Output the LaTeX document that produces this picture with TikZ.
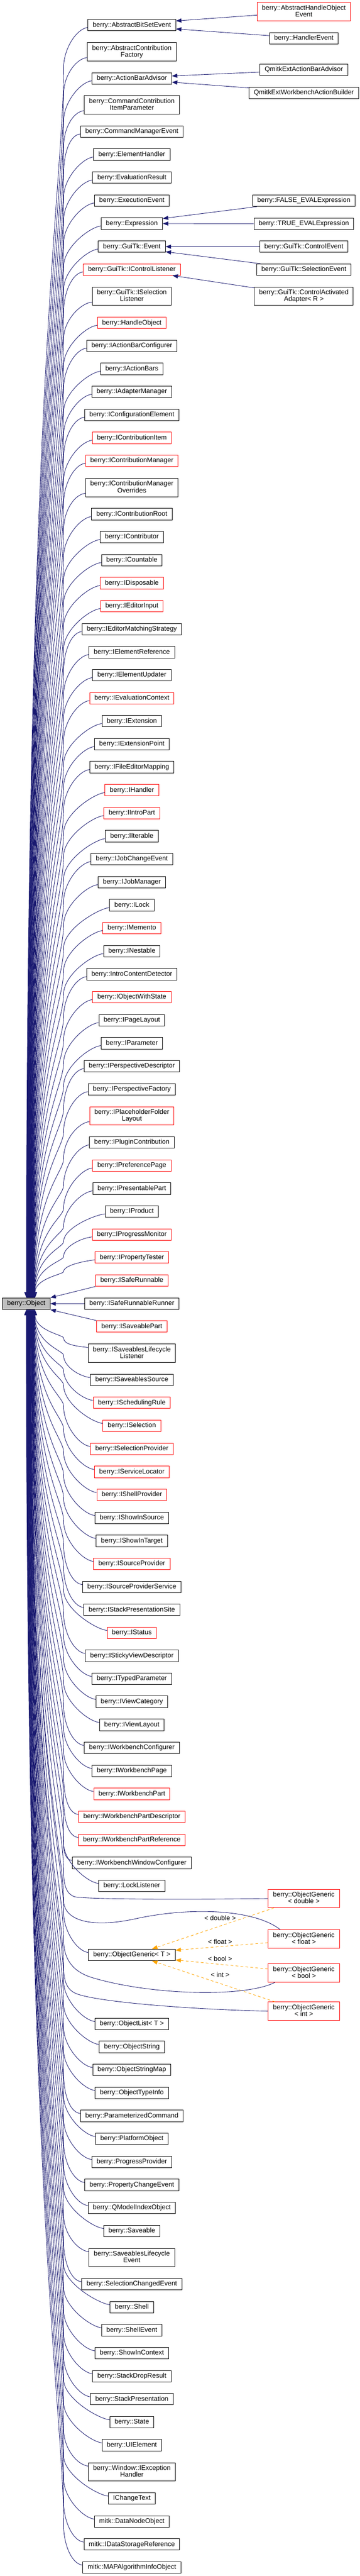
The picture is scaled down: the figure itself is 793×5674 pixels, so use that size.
\documentclass[tikz,border=0pt]{standalone}
\usepackage{fontspec}
\setmainfont{Liberation Sans}
\usetikzlibrary{arrows.meta,calc}
\definecolor{navy}{HTML}{191970}
\definecolor{orng}{HTML}{FFA500}
\definecolor{grey75}{HTML}{BFBFBF}
\newcommand\fs{\fontsize{14.7bp}{15bp}\selectfont}
\tikzset{
  cls/.style={draw=black, line width=1.1bp, fill=white, font=\fs, align=center, inner xsep=10.5bp, inner ysep=2bp, minimum height=25.3bp, text depth=3.2bp},
  tall/.style={minimum height=40.3bp},
  redb/.style={draw=red},
  cur/.style={fill=grey75},
  inh/.style={draw=navy, line width=1bp, -{Triangle[length=12bp,width=9bp]}},
  tmpl/.style={draw=orng, line width=1bp, dash pattern=on 6bp off 5bp, -{Triangle[length=12bp,width=9bp]}},
  lbl/.style={font=\fs, inner sep=0pt}
}
\newcommand\edgeup[2]{%
  \pgfmathsetmacro\dA{min(95,0.35*(2859-#2))}%
  \pgfmathsetmacro\Py{#2+\dA}%
  \pgfmathsetmacro\Pc{\Py-0.45*\dA}%
  \pgfmathsetmacro\LL{2859-\Py}%
  \pgfmathsetmacro\cA{\Py+0.1*\LL}%
  \pgfmathsetmacro\cB{2859-0.75*\LL}%
  \pgfmathsetmacro\tx{58+20*(#2/2859)}%
  \pgfmathsetmacro\txr{\tx-5}%
  \draw[inh] ($(#1.south west)+(0,-8)$) .. controls +(-25,3) and (140,\Pc) .. (140,\Py) .. controls (140,\cA) and (\tx,\cB) .. ($(Object.north west)+(\txr,0)$);%
}
\newcommand\edgedown[2]{%
  \pgfmathsetmacro\dA{min(95,0.35*(#2-2884))}%
  \pgfmathsetmacro\Py{#2-\dA}%
  \pgfmathsetmacro\Pc{\Py+0.45*\dA}%
  \pgfmathsetmacro\LL{\Py-2884}%
  \pgfmathsetmacro\cA{\Py-0.1*\LL}%
  \pgfmathsetmacro\cB{2884+0.75*\LL}%
  \pgfmathsetmacro\tx{58+20*((5674-#2)/2790)}%
  \pgfmathsetmacro\txr{\tx-5}%
  \draw[inh] ($(#1.north west)+(0,8)$) .. controls +(-25,-3) and (140,\Pc) .. (140,\Py) .. controls (140,\cA) and (\tx,\cB) .. ($(Object.south west)+(\txr,0)$);%
}
\newcommand\obtrunk[3]{%
  \pgfmathsetmacro\LL{#2-2884}%
  \pgfmathsetmacro\cA{#2-0.1*\LL}%
  \pgfmathsetmacro\cB{2884+0.75*\LL}%
  \pgfmathsetmacro\txr{#3-5}%
  \draw[inh] #1 .. controls (140,\cA) and (#3,\cB) .. ($(Object.south west)+(\txr,0)$);%
}
\begin{document}
\begin{tikzpicture}[x=1bp,y=-1bp]
\fill[white] (0,0) rectangle (793,5674);
\useasboundingbox (0,0) rectangle (793,5674);

% base class
\node[cls,cur] (Object) at (57.9,2871.5) {berry::Object};

% main column
\node[cls] (ABSE) at (290.5,55.3) {berry::AbstractBitSetEvent};
\node[cls,tall] (ACF) at (290.5,114) {berry::AbstractContribution\\Factory};
\node[cls] (ABA) at (290.5,172.7) {berry::ActionBarAdvisor};
\node[cls,tall] (CCIP) at (290.5,231) {berry::CommandContribution\\ItemParameter};
\node[cls] (CME) at (290.5,289.8) {berry::CommandManagerEvent};
\node[cls] (EH) at (290.5,340.5) {berry::ElementHandler};
\node[cls] (ER) at (290.5,391.3) {berry::EvaluationResult};
\node[cls] (EE) at (290.5,441.8) {berry::ExecutionEvent};
\node[cls] (EXP) at (290.5,492.5) {berry::Expression};
\node[cls] (GEV) at (290.5,543.3) {berry::GuiTk::Event};
\node[cls,redb] (GICL) at (290.5,593.7) {berry::GuiTk::IControlListener};
\node[cls,tall] (GISL) at (290.5,652.5) {berry::GuiTk::ISelection\\Listener};
\node[cls,redb] (HO) at (290.5,711.2) {berry::HandleObject};
\node[cls] (IABC) at (290.5,761.7) {berry::IActionBarConfigurer};
\node[cls] (IAB) at (290.5,812.5) {berry::IActionBars};
\node[cls] (IAM) at (290.5,863.2) {berry::IAdapterManager};
\node[cls] (ICE) at (290.5,913.8) {berry::IConfigurationElement};
\node[cls,redb] (ICI) at (290.5,964.5) {berry::IContributionItem};
\node[cls,redb] (ICM) at (290.5,1015.2) {berry::IContributionManager};
\node[cls,tall] (ICMO) at (290.5,1073.8) {berry::IContributionManager\\Overrides};
\node[cls] (ICR) at (290.5,1132.5) {berry::IContributionRoot};
\node[cls] (ICON) at (290.5,1183.2) {berry::IContributor};
\node[cls] (ICOU) at (290.5,1233.8) {berry::ICountable};
\node[cls,redb] (IDIS) at (290.5,1284.5) {berry::IDisposable};
\node[cls,redb] (IEI) at (290.5,1335.2) {berry::IEditorInput};
\node[cls] (IEMS) at (290.5,1385.8) {berry::IEditorMatchingStrategy};
\node[cls] (IER) at (290.5,1436.5) {berry::IElementReference};
\node[cls] (IEU) at (290.5,1487.3) {berry::IElementUpdater};
\node[cls,redb] (IEC) at (290.5,1538) {berry::IEvaluationContext};
\node[cls] (IEXT) at (290.5,1588.5) {berry::IExtension};
\node[cls] (IEP) at (290.5,1639.3) {berry::IExtensionPoint};
\node[cls] (IFEM) at (290.5,1689.8) {berry::IFileEditorMapping};
\node[cls,redb] (IH) at (290.5,1740.5) {berry::IHandler};
\node[cls,redb] (IIP) at (290.5,1791.3) {berry::IIntroPart};
\node[cls] (IIT) at (290.5,1841.8) {berry::IIterable};
\node[cls] (IJCE) at (290.5,1892.5) {berry::IJobChangeEvent};
\node[cls] (IJM) at (290.5,1943.3) {berry::IJobManager};
\node[cls] (ILK) at (290.5,1993.8) {berry::ILock};
\node[cls,redb] (IMEM) at (290.5,2044.5) {berry::IMemento};
\node[cls] (INES) at (290.5,2095.2) {berry::INestable};
\node[cls] (ICD) at (290.5,2146) {berry::IntroContentDetector};
\node[cls,redb] (IOWS) at (290.5,2196.5) {berry::IObjectWithState};
\node[cls] (IPL) at (290.5,2247.2) {berry::IPageLayout};
\node[cls] (IPAR) at (290.5,2297.8) {berry::IParameter};
\node[cls] (IPD) at (290.5,2348.5) {berry::IPerspectiveDescriptor};
\node[cls] (IPF) at (290.5,2399.3) {berry::IPerspectiveFactory};
\node[cls,tall,redb] (IPFL) at (290.5,2457.8) {berry::IPlaceholderFolder\\Layout};
\node[cls] (IPC) at (290.5,2516.5) {berry::IPluginContribution};
\node[cls,redb] (IPP) at (290.5,2567.3) {berry::IPreferencePage};
\node[cls] (IPRP) at (290.5,2617.8) {berry::IPresentablePart};
\node[cls] (IPROD) at (290.5,2668.5) {berry::IProduct};
\node[cls,redb] (IPM) at (290.5,2719.2) {berry::IProgressMonitor};
\node[cls,redb] (IPT) at (290.5,2769.8) {berry::IPropertyTester};
\node[cls,redb] (ISR) at (290.5,2820.5) {berry::ISafeRunnable};
\node[cls] (ISRR) at (290.5,2871.5) {berry::ISafeRunnableRunner};
\node[cls,redb] (ISP) at (290.5,2921.8) {berry::ISaveablePart};
\node[cls,tall] (ISLL) at (290.5,2980.7) {berry::ISaveablesLifecycle\\Listener};
\node[cls] (ISS) at (290.5,3039.5) {berry::ISaveablesSource};
\node[cls,redb] (ISCR) at (290.5,3089.8) {berry::ISchedulingRule};
\node[cls,redb] (ISEL) at (290.5,3140.5) {berry::ISelection};
\node[cls,redb] (ISELP) at (290.5,3191.3) {berry::ISelectionProvider};
\node[cls,redb] (ISL) at (290.5,3242) {berry::IServiceLocator};
\node[cls,redb] (ISHP) at (290.5,3292.7) {berry::IShellProvider};
\node[cls] (ISIS) at (290.5,3343.3) {berry::IShowInSource};
\node[cls] (ISIT) at (290.5,3394) {berry::IShowInTarget};
\node[cls,redb] (ISPR) at (290.5,3444.5) {berry::ISourceProvider};
\node[cls] (ISPS) at (290.5,3495.5) {berry::ISourceProviderService};
\node[cls] (ISPST) at (290.5,3546) {berry::IStackPresentationSite};
\node[cls,redb] (IST) at (290.5,3596.5) {berry::IStatus};
\node[cls] (ISVD) at (290.5,3647.2) {berry::IStickyViewDescriptor};
\node[cls] (ITP) at (290.5,3697.8) {berry::ITypedParameter};
\node[cls] (IVC) at (290.5,3748.3) {berry::IViewCategory};
\node[cls] (IVL) at (290.5,3799.2) {berry::IViewLayout};
\node[cls] (IWC) at (290.5,3849.8) {berry::IWorkbenchConfigurer};
\node[cls] (IWP) at (290.5,3900.5) {berry::IWorkbenchPage};
\node[cls,redb] (IWPA) at (290.5,3951.2) {berry::IWorkbenchPart};
\node[cls,redb] (IWPD) at (290.5,4001.8) {berry::IWorkbenchPartDescriptor};
\node[cls,redb] (IWPR) at (290.5,4052.5) {berry::IWorkbenchPartReference};
\node[cls] (IWWC) at (290.5,4103.2) {berry::IWorkbenchWindowConfigurer};
\node[cls] (LL) at (290.5,4153.8) {berry::LockListener};
\node[cls] (OGT) at (290.5,4305.8) {berry::ObjectGeneric< T >};
\node[cls] (OL) at (290.5,4457.8) {berry::ObjectList< T >};
\node[cls] (OS) at (290.5,4508.5) {berry::ObjectString};
\node[cls] (OSM) at (290.5,4559.2) {berry::ObjectStringMap};
\node[cls] (OTI) at (290.5,4609.8) {berry::ObjectTypeInfo};
\node[cls] (PC) at (290.5,4660.5) {berry::ParameterizedCommand};
\node[cls] (PO) at (290.5,4711.2) {berry::PlatformObject};
\node[cls] (PP) at (290.5,4761.8) {berry::ProgressProvider};
\node[cls] (PCE) at (290.5,4812.5) {berry::PropertyChangeEvent};
\node[cls] (QMIO) at (290.5,4863.2) {berry::QModelIndexObject};
\node[cls] (SAV) at (290.5,4913.8) {berry::Saveable};
\node[cls,tall] (SLE) at (290.5,4972.5) {berry::SaveablesLifecycle\\Event};
\node[cls] (SCE) at (290.5,5031.2) {berry::SelectionChangedEvent};
\node[cls] (SH) at (290.5,5081.8) {berry::Shell};
\node[cls] (SHE) at (290.5,5132.5) {berry::ShellEvent};
\node[cls] (SIC) at (290.5,5183.2) {berry::ShowInContext};
\node[cls] (SDR) at (290.5,5233.8) {berry::StackDropResult};
\node[cls] (STP) at (290.5,5284.5) {berry::StackPresentation};
\node[cls] (STA) at (290.5,5335.2) {berry::State};
\node[cls] (UIE) at (290.5,5385.8) {berry::UIElement};
\node[cls,tall] (WIEH) at (290.5,5444.5) {berry::Window::IException\\Handler};
\node[cls] (ICT) at (290.5,5503.2) {IChangeText};
\node[cls] (MDNO) at (290.5,5553.8) {mitk::DataNodeObject};
\node[cls] (MIDSR) at (290.5,5604.5) {mitk::IDataStorageReference};
\node[cls] (MMAP) at (290.5,5655.2) {mitk::MAPAlgorithmInfoObject};

% right column
\node[cls,tall,redb] (AHOE) at (669.5,25.8) {berry::AbstractHandleObject\\Event};
\node[cls] (HE) at (669.5,84.5) {berry::HandlerEvent};
\node[cls] (QEABA) at (669.5,153.8) {QmitkExtActionBarAdvisor};
\node[cls] (QEWAB) at (669.5,204.5) {QmitkExtWorkbenchActionBuilder};
\node[cls] (FEE) at (669.5,442) {berry::FALSE\_EVALExpression};
\node[cls] (TEE) at (669.5,492.7) {berry::TRUE\_EVALExpression};
\node[cls] (GCE) at (669.5,543.3) {berry::GuiTk::ControlEvent};
\node[cls] (GSE) at (669.5,594) {berry::GuiTk::SelectionEvent};
\node[cls,tall] (GCAA) at (669.5,652.5) {berry::GuiTk::ControlActivated\\Adapter< R >};
\node[cls,tall,redb] (OGD) at (669.5,4181.8) {berry::ObjectGeneric\\< double >};
\node[cls,tall,redb] (OGF) at (669.5,4271) {berry::ObjectGeneric\\< float >};
\node[cls,tall,redb] (OGB) at (669.5,4345.8) {berry::ObjectGeneric\\< bool >};
\node[cls,tall,redb] (OGI) at (669.5,4429.8) {berry::ObjectGeneric\\< int >};

% template labels
\node[lbl] (Ld) at (485,4225) {< double >};
\node[lbl] (Lf) at (485,4277.3) {< float >};
\node[lbl] (Lb) at (485,4314.3) {< bool >};
\node[lbl] (Li) at (485,4349.3) {< int >};

% right-column inheritance
\draw[inh] ($(AHOE.west)+(0,7.5)$) -- ($(ABSE.north east)+(0,4)$);
\draw[inh] ($(HE.west)+(0,-6)$) -- ($(ABSE.south east)+(0,-4.7)$);
\draw[inh] ($(QEABA.west)+(0,5)$) -- ($(ABA.east)+(0,-5.4)$);
\draw[inh] ($(QEWAB.north west)+(0,2.3)$) -- ($(ABA.east)+(0,8.3)$);
\draw[inh] ($(FEE.south west)+(10,0)$) -- ($(EXP.north east)+(0,2)$);
\draw[inh] (TEE.west) -- (EXP.east);
\draw[inh] (GCE.west) -- (GEV.east);
\draw[inh] ($(GSE.north west)+(9,0)$) -- ($(GEV.south east)+(0,-2)$);
\draw[inh] ($(GCAA.north west)+(0,2.3)$) -- ($(GICL.south east)+(-18,0)$);

% template instantiations
\draw[tmpl] ($(OGD.south west)+(13,0)$) -- ($(OGT.north)+(44.5,0)$);
\draw[tmpl] ($(OGF.west)+(0,8)$) -- ($(OGT.north east)+(0,3)$);
\draw[tmpl] ($(OGB.west)+(0,-8.8)$) -- ($(OGT.south east)+(0,-2)$);
\draw[tmpl] ($(OGI.north west)+(15,0)$) -- ($(OGT.south)+(44.5,0)$);

% edges to berry::Object from above
\foreach \nm/\yy in {ABSE/55.3, ACF/114, ABA/172.7, CCIP/231, CME/289.8, EH/340.5, ER/391.3, EE/441.8, EXP/492.5, GEV/543.3, GICL/593.7, GISL/652.5, HO/711.2, IABC/761.7, IAB/812.5, IAM/863.2, ICE/913.8, ICI/964.5, ICM/1015.2, ICMO/1073.8, ICR/1132.5, ICON/1183.2, ICOU/1233.8, IDIS/1284.5, IEI/1335.2, IEMS/1385.8, IER/1436.5, IEU/1487.3, IEC/1538, IEXT/1588.5, IEP/1639.3, IFEM/1689.8, IH/1740.5, IIP/1791.3, IIT/1841.8, IJCE/1892.5, IJM/1943.3, ILK/1993.8, IMEM/2044.5, INES/2095.2, ICD/2146, IOWS/2196.5, IPL/2247.2, IPAR/2297.8, IPD/2348.5, IPF/2399.3, IPFL/2457.8, IPC/2516.5, IPP/2567.3, IPRP/2617.8, IPROD/2668.5, IPM/2719.2, IPT/2769.8}
  {\edgeup{\nm}{\yy}}

% nearest ones
\draw[inh] (ISR.south west) -- (Object.north east);
\draw[inh] (ISRR.west) -- (Object.east);
\draw[inh] (ISP.north west) -- (Object.south east);

% edges to berry::Object from below
\foreach \nm/\yy in {ISLL/2980.7, ISS/3039.5, ISCR/3089.8, ISEL/3140.5, ISELP/3191.3, ISL/3242, ISHP/3292.7, ISIS/3343.3, ISIT/3394, ISPR/3444.5, ISPS/3495.5, ISPST/3546, IST/3596.5, ISVD/3647.2, ITP/3697.8, IVC/3748.3, IVL/3799.2, IWC/3849.8, IWP/3900.5, IWPA/3951.2, IWPD/4001.8, IWPR/4052.5, IWWC/4103.2, LL/4153.8, OGT/4305.8, OL/4457.8, OS/4508.5, OSM/4559.2, OTI/4609.8, PC/4660.5, PO/4711.2, PP/4761.8, PCE/4812.5, QMIO/4863.2, SAV/4913.8, SLE/4972.5, SCE/5031.2, SH/5081.8, SHE/5132.5, SIC/5183.2, SDR/5233.8, STP/5284.5, STA/5335.2, UIE/5385.8, WIEH/5444.5, ICT/5503.2, MDNO/5553.8, MIDSR/5604.5, MMAP/5655.2}
  {\edgedown{\nm}{\yy}}

% ObjectGeneric instantiations also derive from berry::Object
\obtrunk{(OGD.west) .. controls (420,4184) and (200,4184) .. (165,4178) .. controls (148,4173) and (140,4155) .. (140,4120)}{4120}{68}
\obtrunk{($(OGF.north west)+(27,0)$) .. controls (560,4205) and (420,4200) .. (300,4226) .. controls (200,4248) and (140,4230) .. (140,4185)}{4185}{67}
\obtrunk{($(OGB.south west)+(15,0)$) .. controls (540,4400) and (330,4395) .. (200,4355) .. controls (155,4340) and (140,4310) .. (140,4270)}{4270}{66.5}
\obtrunk{(OGI.west) .. controls (420,4426) and (220,4410) .. (170,4392) .. controls (148,4384) and (140,4365) .. (140,4330)}{4330}{66}
\end{tikzpicture}
\end{document}
